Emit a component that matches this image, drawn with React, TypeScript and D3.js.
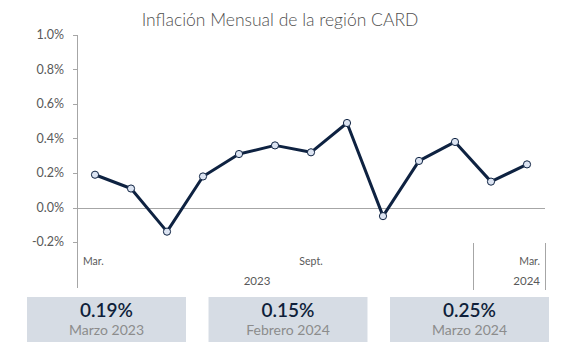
import React from "react";
import * as d3 from "d3";

const months = ["Mar", "Abr", "May", "Jun", "Jul", "Ago", "Sep", "Oct", "Nov", "Dic", "Ene", "Feb", "Mar24"];
const values = [0.19, 0.11, -0.14, 0.18, 0.31, 0.36, 0.32, 0.49, -0.05, 0.27, 0.38, 0.15, 0.25];
const yTicks = [1.0, 0.8, 0.6, 0.4, 0.2, 0.0, -0.2];
const catLabels = [
  { idx: 0, text: "Mar.", anchor: "start" },
  { idx: 6, text: "Sept.", anchor: "middle" },
  { idx: 12, text: "Mar.", anchor: "end" },
];
const boxValues = ["0.19%", "0.15%", "0.25%"];
const boxLabels = ["Marzo 2023", "Febrero 2024", "Marzo 2024"];

const W = 575;
const H = 358;
const FONT = "Lato, 'Noto Sans', sans-serif";

export default function App() {
  const x = d3.scaleBand<string>().domain(months).range([77, 545]).padding(0);
  const y = d3.scaleLinear().domain([-0.2, 1.0]).range([242, 35]);
  const cx = (i: number) => (x(months[i]) as number) + x.bandwidth() / 2;

  const line = d3
    .line<number>()
    .x((_, i) => cx(i))
    .y((d) => y(d));

  const boxX = d3.scaleBand<number>().domain([0, 1, 2]).range([27, 549]).paddingInner(0.124);

  const sepX = x(months[11]) as number;
  const year2023X = ((x(months[0]) as number) + (x(months[9]) as number) + x.bandwidth()) / 2;

  return (
    <div style={{ margin: -8 }}>
      <svg width={W} height={H} style={{ display: "block", fontFamily: FONT }}>
        <rect width={W} height={H} fill="#ffffff" />
        <text x={280} y={26} textAnchor="middle" fontSize={17.5} fill="#505050" fontWeight={300}>
          Inflación Mensual de la región CARD
        </text>
        {/* y axis */}
        <line x1={77.5} x2={77.5} y1={35} y2={288} stroke="#a6a6a6" strokeWidth={1} />
        {yTicks.map((t) => (
          <g key={t}>
            <line x1={73} x2={77.5} y1={Math.round(y(t)) + 0.5} y2={Math.round(y(t)) + 0.5} stroke="#a6a6a6" />
            <text x={64} y={y(t)} dy="0.35em" textAnchor="end" fontSize={12.5} fill="#595959">
              {d3.format(".1f")(t).replace("−", "-") + "%"}
            </text>
          </g>
        ))}
        {/* zero line */}
        <line x1={77} x2={545} y1={Math.round(y(0)) + 0.5} y2={Math.round(y(0)) + 0.5} stroke="#a6a6a6" />
        {/* category separators */}
        <line x1={sepX + 0.5} x2={sepX + 0.5} y1={243} y2={290} stroke="#a6a6a6" />
        <line x1={545.5} x2={545.5} y1={243} y2={290} stroke="#a6a6a6" />
        {catLabels.map((c, k) => (
          <text
            key={k}
            x={c.anchor === "start" ? (x(months[c.idx]) as number) + 6 : c.anchor === "end" ? (x(months[c.idx]) as number) + x.bandwidth() - 5 : cx(c.idx)}
            y={261}
            dy="0.35em"
            textAnchor={c.anchor as any}
            fontSize={10.5}
            fill="#595959"
          >
            {c.text}
          </text>
        ))}
        <text x={year2023X} y={281} dy="0.35em" textAnchor="middle" fontSize={11.5} fill="#595959">
          2023
        </text>
        <text x={540} y={281} dy="0.35em" textAnchor="end" fontSize={11.5} fill="#595959">
          2024
        </text>
        {/* series */}
        <path d={line(values) || ""} fill="none" stroke="#0e2241" strokeWidth={3} strokeLinejoin="round" />
        {values.map((v, i) => (
          <circle key={i} cx={cx(i)} cy={y(v)} r={3.6} fill="#dce4f2" stroke="#0e2241" strokeWidth={1} />
        ))}
        {/* summary boxes */}
        {boxValues.map((bv, i) => {
          const bx = boxX(i) as number;
          const bw = boxX.bandwidth();
          return (
            <g key={i}>
              <rect x={bx} y={297} width={bw} height={45} fill="#d6dce4" />
              <text x={bx + bw / 2} y={310} dy="0.35em" textAnchor="middle" fontSize={19} fontWeight={600} fill="#0f1f3a">
                {bv}
              </text>
              <text x={bx + bw / 2} y={330} dy="0.35em" textAnchor="middle" fontSize={14} fill="#8c8c8c">
                {boxLabels[i]}
              </text>
            </g>
          );
        })}
      </svg>
    </div>
  );
}
